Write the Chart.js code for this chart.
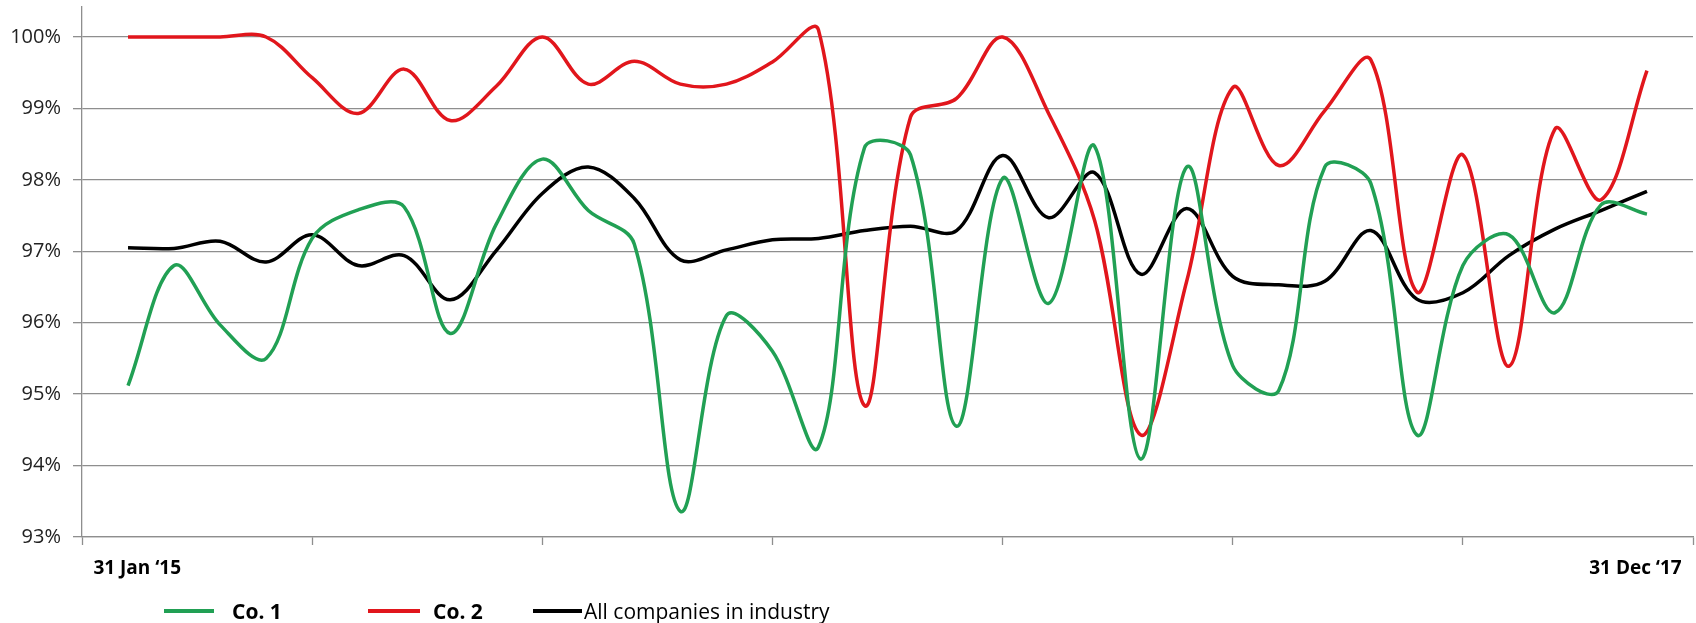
<!DOCTYPE html>
<html>
<head>
<meta charset="utf-8">
<script src="https://cdn.jsdelivr.net/npm/chart.js@4.4.1/dist/chart.umd.min.js"></script>
<style>
  html, body { margin: 0; padding: 0; background: #fff; }
  #wrap { position: relative; width: 1696px; height: 623px; }
  #legend { position: absolute; left: 0; top: 613px; width: 100%; height: 0; font-family: "Open Sans", sans-serif; color: #000; }
  .swatch { position: absolute; top: -4px; height: 4px; }
  .lbl { position: absolute; top: 0; transform: translateY(-56%); white-space: nowrap; }
</style>
</head>
<body>
<div id="wrap">
  <canvas id="chart"></canvas>
  <div id="legend"></div>
</div>
<script>
// monthly points (34 points)
const co1 = [95.12, 96.8, 95.97, 95.5, 97.18, 97.58, 97.62, 95.85, 97.38, 98.29,
    97.57, 97.1, 93.36, 96.1, 95.6, 94.26, 98.45, 98.35, 94.55, 98.02,
    96.27, 98.47, 94.09, 98.18, 95.4, 95.05, 98.18, 97.95, 94.43, 96.8,
    97.23, 96.14, 97.65, 97.52];
const co2 = [100, 100, 100, 100, 99.43, 98.93, 99.55, 98.83, 99.31, 100,
    99.34, 99.66, 99.34, 99.34, 99.65, 100.1, 94.84, 98.88, 99.14, 100,
    98.93, 97.43, 94.43, 96.58, 99.29, 98.2, 98.97, 99.68, 96.43, 98.35,
    95.39, 98.71, 97.72, 99.53];
const industry = [97.05, 97.04, 97.14, 96.85, 97.23, 96.8, 96.94, 96.32, 97.01, 97.81,
    98.18, 97.74, 96.88, 97.02, 97.16, 97.18, 97.29, 97.35, 97.29, 98.34,
    97.47, 98.1, 96.68, 97.6, 96.65, 96.53, 96.58, 97.29, 96.33, 96.42,
    96.94, 97.31, 97.57, 97.84];
const yTicks = [93, 94, 95, 96, 97, 98, 99, 100];
const dateLabels = ["31 Jan \u201815", "31 Dec \u201817"];
const seriesNames = ["Co. 1", "Co. 2", "All companies in industry"];
const seriesColors = ["#21a054", "#e1161c", "#000000"];

const gridColor = "#8e8e8e";
const fontFamily = '"Open Sans", sans-serif';

function toPoints(arr) {
    return arr.map(function (v, i) { return { x: i, y: v }; });
}

const datasets = [co1, co2, industry].map(function (arr, i) {
    return {
        label: seriesNames[i],
        data: toPoints(arr),
        borderColor: seriesColors[i],
        backgroundColor: seriesColors[i],
        borderWidth: 3.5,
        pointRadius: 0,
        tension: 0.35,
        fill: false,
    };
});

var ctx = document.getElementById("chart");
var myChart = new Chart(ctx, {
    type: "line",
    data: { datasets: datasets },
    options: {
        responsive: true,
        maintainAspectRatio: false,
        animation: false,
        layout: { padding: { top: 7, right: 3, left: 0, bottom: 0 } },
        plugins: {
            legend: { display: false },
            tooltip: { enabled: false },
        },
        scales: {
            x: {
                type: "linear",
                min: -1,
                max: co1.length,
                afterBuildTicks: function (scale) {
                    // tick marks every 5 slots, date labels near both ends
                    var t = [];
                    for (var v = scale.min; v <= scale.max; v += 5) t.push({ value: v });
                    t.splice(1, 0, { value: 0.2, text: dateLabels[0] });
                    t.splice(t.length - 1, 0, { value: co1.length - 1.25, text: dateLabels[1] });
                    scale.ticks = t;
                },
                afterFit: function (scale) {
                    scale.height = 86;
                    scale.paddingLeft = 0;
                    scale.paddingRight = 0;
                },
                grid: {
                    drawOnChartArea: false,
                    tickLength: 8,
                    tickWidth: 1.3,
                    tickColor: function (c) {
                        return c.tick && c.tick.text ? "rgba(0,0,0,0)" : gridColor;
                    },
                },
                border: { color: gridColor, width: 1.3 },
                ticks: {
                    autoSkip: false,
                    maxRotation: 0,
                    padding: 12,
                    color: "#000",
                    font: { family: fontFamily, size: 19, weight: "bold" },
                    callback: function (value, index, ticks) {
                        return ticks[index].text || "";
                    },
                },
            },
            y: {
                min: 93,
                max: 100.42,
                afterBuildTicks: function (scale) {
                    scale.ticks = yTicks.map(function (v) { return { value: v }; });
                },
                afterFit: function (scale) {
                    scale.width = 82;
                    scale.paddingTop = 0;
                    scale.paddingBottom = 0;
                },
                grid: { color: gridColor, lineWidth: 1.3, tickLength: 9 },
                border: { color: gridColor, width: 1.3 },
                ticks: {
                    padding: 12,
                    color: "#222",
                    font: { family: fontFamily, size: 20 },
                    callback: function (value) { return value + "%"; },
                },
            },
        },
    },
});

// legend below the plot
var legendPos = [
    { line: 164, width: 50, text: 232, size: 21, weight: "bold" },
    { line: 368, width: 52, text: 433, size: 21, weight: "bold" },
    { line: 533, width: 49, text: 584, size: 21, weight: "normal" },
];
var legend = document.getElementById("legend");
seriesNames.forEach(function (name, i) {
    var p = legendPos[i];
    var sw = document.createElement("div");
    sw.className = "swatch";
    sw.style.left = p.line + "px";
    sw.style.width = p.width + "px";
    sw.style.background = seriesColors[i];
    legend.appendChild(sw);
    var tx = document.createElement("div");
    tx.className = "lbl";
    tx.style.left = p.text + "px";
    tx.style.fontSize = p.size + "px";
    tx.style.fontWeight = p.weight;
    tx.textContent = name;
    legend.appendChild(tx);
});
</script>
</body>
</html>
